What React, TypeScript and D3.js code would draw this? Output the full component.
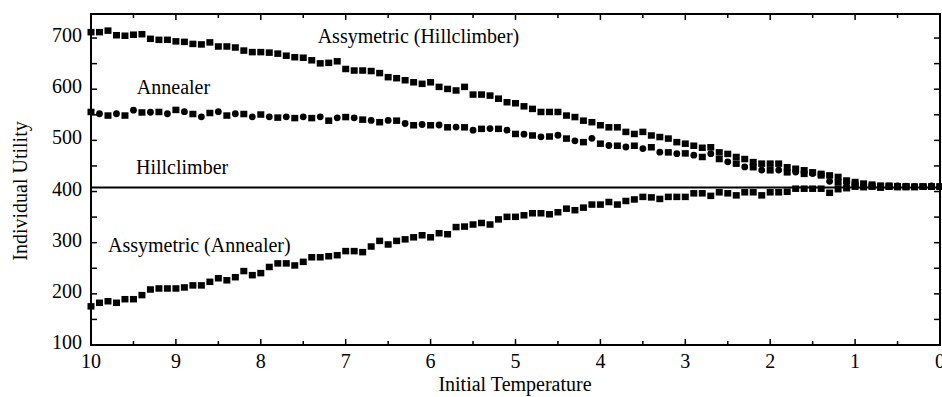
import React from 'react';
import * as d3 from 'd3';

// Initial temperature grid (10 -> 0, step 0.1)
const temperatures: number[] = d3.range(101).map((i) => +(10 - i * 0.1).toFixed(1));

const asymHillclimber: number[] = [
  712, 712, 715, 706, 705, 707, 708, 699, 697, 697,
  694, 693, 689, 688, 692, 684, 684, 682, 676, 673,
  673, 672, 670, 666, 663, 662, 657, 651, 652, 655,
  640, 637, 637, 636, 632, 624, 622, 618, 614, 611,
  614, 605, 601, 598, 605, 590, 590, 588, 582, 575,
  573, 567, 562, 556, 556, 556, 549, 546, 539, 536,
  530, 526, 526, 517, 513, 517, 510, 507, 504, 497,
  494, 490, 486, 487, 477, 474, 468, 464, 458, 455,
  455, 455, 448, 445, 442, 438, 435, 432, 429, 422,
  419, 416, 414, 412, 412, 411, 411, 410, 410, 410,
  410,
];

const annealer: number[] = [
  556, 552, 549, 552, 549, 559, 555, 555, 556, 552,
  560, 556, 552, 546, 554, 556, 549, 552, 552, 546,
  551, 546, 545, 546, 544, 546, 544, 546, 539, 544,
  546, 544, 541, 539, 536, 539, 539, 533, 530, 531,
  530, 530, 526, 526, 526, 520, 523, 523, 523, 520,
  513, 512, 510, 507, 508, 510, 504, 499, 497, 504,
  494, 490, 490, 487, 490, 484, 487, 477, 477, 474,
  475, 471, 468, 474, 464, 458, 455, 448, 448, 442,
  442, 442, 438, 438, 435, 435, 432, 420, 418, 416,
  414, 412, 411, 410, 410, 411, 409, 410, 410, 411,
  410,
];

const asymAnnealer: number[] = [
  176, 183, 186, 183, 190, 190, 198, 209, 211, 211,
  211, 213, 217, 217, 224, 231, 227, 233, 245, 237,
  241, 253, 260, 260, 256, 263, 272, 272, 274, 276,
  284, 284, 282, 293, 304, 297, 304, 307, 311, 315,
  311, 319, 317, 331, 332, 336, 339, 336, 346, 351,
  351, 354, 358, 358, 356, 360, 367, 364, 369, 375,
  375, 380, 375, 382, 385, 390, 389, 386, 390, 390,
  390, 397, 397, 392, 399, 397, 393, 399, 399, 393,
  399, 399, 400, 406, 406, 406, 406, 398, 405, 407,
  410, 409, 410, 408, 410, 409, 410, 409, 410, 410,
  410,
];

const hillclimberUtility = 408;

const xTickValues = [10, 9, 8, 7, 6, 5, 4, 3, 2, 1, 0];
const yTickValues = [100, 200, 300, 400, 500, 600, 700];

const labels = [
  { text: 'Assymetric (Hillclimber)', t: 7.33, v: 690 },
  { text: 'Annealer', t: 9.46, v: 591 },
  { text: 'Hillclimber', t: 9.47, v: 434 },
  { text: 'Assymetric (Annealer)', t: 9.8, v: 282 },
];

const W = 942;
const H = 397;
const FONT = '"Liberation Serif", "Times New Roman", serif';

export default function App() {
  const x = d3.scaleLinear().domain([10, 0]).range([91, 940]);
  const y = d3.scaleLinear().domain([100, 747]).range([345, 14]);
  const [x0, x1] = x.range();
  const [yb, yt] = y.range();

  const xMinor = d3.range(0, 10.01, 0.5);
  const yMinor = d3.range(100, 746, 50);

  const sq = (t: number, v: number, key: string) => (
    <rect key={key} x={x(t) - 3.5} y={y(v) - 3} width={7} height={6.5} fill="#000" />
  );

  return (
    <svg
      width={W}
      height={H}
      style={{ position: 'absolute', left: 0, top: 0, background: '#fff' }}
      fontFamily={FONT}
    >
      <rect x={0} y={0} width={W} height={H} fill="#fff" />
      {/* ticks */}
      {xMinor.map((t) => {
        const major = Math.abs(t - Math.round(t)) < 1e-6;
        const len = major ? 6 : 4;
        return (
          <g key={'xt' + t}>
            <line x1={x(t)} x2={x(t)} y1={yb} y2={yb - len} stroke="#000" strokeWidth={1.5} />
            <line x1={x(t)} x2={x(t)} y1={yt} y2={yt + len} stroke="#000" strokeWidth={1.5} />
          </g>
        );
      })}
      {yMinor.map((v) => (
        <g key={'yt' + v}>
          <line x1={x0} x2={x0 + 6} y1={y(v)} y2={y(v)} stroke="#000" strokeWidth={1.5} />
          <line x1={x1} x2={x1 - 6} y1={y(v)} y2={y(v)} stroke="#000" strokeWidth={1.5} />
        </g>
      ))}
      {/* frame */}
      <rect x={x0} y={yt} width={x1 - x0} height={yb - yt} fill="none" stroke="#000" strokeWidth={2} />

      {/* hillclimber line */}
      <line
        x1={x(10)}
        x2={x(0)}
        y1={y(hillclimberUtility)}
        y2={y(hillclimberUtility)}
        stroke="#000"
        strokeWidth={2}
      />

      {/* series */}
      <g>{asymHillclimber.map((v, i) => sq(temperatures[i], v, 'ah' + i))}</g>
      <g>
        {annealer.map((v, i) =>
          i % 2 === 0 ? (
            sq(temperatures[i], v, 'an' + i)
          ) : (
            <circle key={'an' + i} cx={x(temperatures[i])} cy={y(v)} r={3.4} fill="#000" />
          )
        )}
      </g>
      <g>{asymAnnealer.map((v, i) => sq(temperatures[i], v, 'aa' + i))}</g>

      {/* tick labels */}
      {xTickValues.map((t) => (
        <text key={'xl' + t} x={x(t)} y={368} textAnchor="middle" fontSize={20} fill="#000">
          {t}
        </text>
      ))}
      {yTickValues.map((v) => (
        <text key={'yl' + v} x={82} y={y(v) + 4} textAnchor="end" fontSize={20} fill="#000">
          {v}
        </text>
      ))}

      {/* axis titles */}
      <text x={515} y={391} textAnchor="middle" fontSize={20} fill="#000">
        Initial Temperature
      </text>
      <text
        transform={`translate(27,191) rotate(-90)`}
        textAnchor="middle"
        fontSize={20}
        fill="#000"
      >
        Individual Utility
      </text>

      {/* annotations */}
      {labels.map((l) => (
        <text key={l.text} x={x(l.t)} y={y(l.v)} fontSize={20} fill="#000">
          {l.text}
        </text>
      ))}
    </svg>
  );
}
